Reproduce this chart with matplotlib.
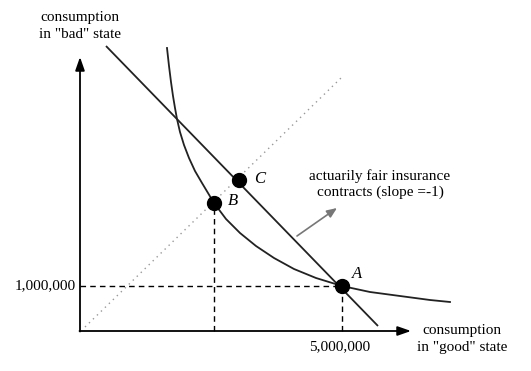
import matplotlib
matplotlib.use("Agg")
import matplotlib.pyplot as plt

plt.rcParams['font.family'] = ['Liberation Serif', 'DejaVu Serif']

# Indifference curve
curve_x = [8.7, 8.9, 9.1, 9.3, 9.5, 9.7, 10.0, 10.4, 10.9, 11.5, 12.2, 13.4, 14.6,
           16.0, 17.6, 19.4, 21.4, 23.6, 26.2, 29.0, 32.0, 35.0, 37.0]
curve_y = [28.3, 26.5, 24.9, 23.5, 22.3, 21.2, 19.9, 18.6, 17.3, 16.0, 14.8, 12.8, 11.2,
           9.8, 8.5, 7.3, 6.2, 5.3, 4.5, 3.9, 3.5, 3.1, 2.9]

# Budget line (actuarially fair contracts)
budget_x = [2.6, 29.8]
budget_y = [28.5, 0.5]

# Certainty (45 degree) line
cert_x = [0.5, 26.1]
cert_y = [0.4, 25.3]

# Labeled points
pt_names = ['A', 'B', 'C']
pt_x = [26.2, 13.4, 15.9]
pt_y = [4.5, 12.8, 15.1]

xtick_label = '5,000,000'
ytick_label = '1,000,000'

fig = plt.figure(figsize=(5.31, 3.71), dpi=100)
ax = fig.add_axes([0, 0, 1, 1])
ax.set_xlim(-8, 45.1)
ax.set_ylim(-4.0, 33.1)
ax.axis('off')

# axes with arrows
ax.annotate('', xy=(0, 27.4), xytext=(0, -0.05),
            arrowprops=dict(arrowstyle='-|>,head_length=0.8,head_width=0.28', color='black', lw=1.3,
                            shrinkA=0, shrinkB=0))
ax.annotate('', xy=(33.1, 0), xytext=(-0.05, 0),
            arrowprops=dict(arrowstyle='-|>,head_length=0.8,head_width=0.28', color='black', lw=1.3,
                            shrinkA=0, shrinkB=0))

# dotted certainty line
ax.plot(cert_x, cert_y, color='#999999', lw=1.0, linestyle=(0, (1, 3)))

# dashed guides
A_x, A_y = pt_x[0], pt_y[0]
B_x, B_y = pt_x[1], pt_y[1]
ax.plot([0, A_x], [A_y, A_y], color='black', lw=1.0, linestyle=(0, (4, 3)))
ax.plot([A_x, A_x], [0, A_y], color='black', lw=1.0, linestyle=(0, (4, 3)))
ax.plot([B_x, B_x], [0, B_y], color='black', lw=1.0, linestyle=(0, (4, 3)))

# curves
ax.plot(budget_x, budget_y, color='#222222', lw=1.3, solid_capstyle='butt')
ax.plot(curve_x, curve_y, color='#222222', lw=1.3, solid_joinstyle='round')

# points
ax.plot(pt_x, pt_y, 'o', color='black', markersize=10, zorder=5)
label_offsets = {'A': (1.5, 1.2), 'B': (1.9, 0.2), 'C': (2.1, 0.1)}
for n, x, y in zip(pt_names, pt_x, pt_y):
    dx, dy = label_offsets[n]
    ax.text(x + dx, y + dy, n, fontsize=12, style='italic', ha='center', va='center')

# tick labels
ax.text(A_x - 0.2, -1.6, xtick_label, fontsize=11, ha='center', va='center')
ax.text(-0.4, A_y, ytick_label, fontsize=11, ha='right', va='center')

# axis titles
ax.text(0, 30.5, 'consumption\nin "bad" state', fontsize=11, ha='center', va='center',
        linespacing=1.35)
ax.text(38.2, -0.8, 'consumption\nin "good" state', fontsize=11, ha='center', va='center',
        linespacing=1.35)

# annotation
ax.text(30.0, 14.7, 'actuarily fair insurance\ncontracts (slope =-1)', fontsize=11,
        ha='center', va='center', linespacing=1.3)
ax.annotate('', xy=(25.7, 12.3), xytext=(21.7, 9.5),
            arrowprops=dict(arrowstyle='-|>,head_length=0.6,head_width=0.25', color='#777777', lw=1.2,
                            shrinkA=0, shrinkB=0))

fig.savefig('out.png', dpi=100)
